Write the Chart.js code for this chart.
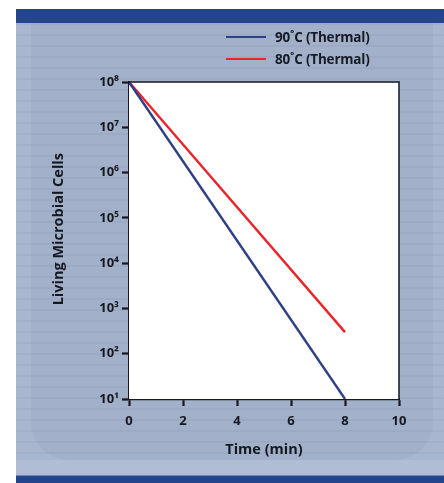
<!DOCTYPE html>
<html>
<head>
<meta charset="utf-8">
<script src="https://cdn.jsdelivr.net/npm/chart.js@4.4.1/dist/chart.umd.min.js"></script>
<style>
  html, body { margin: 0; padding: 0; background: #fff; }
  body { width: 444px; height: 483px; position: relative; overflow: hidden; font-family: "Open Sans", sans-serif; }
  .frame { position: absolute; left: 16px; top: 9px; width: 428px; height: 474px; background: #a9b6cf; }
  .header { position: absolute; left: 0; top: 0; width: 428px; height: 14px; background: #24448b; }
  .panel { position: absolute; left: 15px; top: 14px; width: 402px; height: 437px; background: #a2b0c9;
           border-radius: 0 0 38px 38px;
           background-image: repeating-linear-gradient(to bottom, rgba(60,75,110,0.06) 0px, rgba(60,75,110,0.06) 2px, transparent 2px, transparent 11px); }
  .band { position: absolute; left: 0; top: 451px; width: 428px; height: 15px; background: #b1bdd5; }
  .footer { position: absolute; left: 0; top: 466px; width: 428px; height: 8px; background: #24448b; border-top: 1px solid #6f84b3; }
  .stripes { position: absolute; left: 0; top: 14px; width: 428px; height: 437px;
             background-image: repeating-linear-gradient(to bottom, rgba(60,75,110,0.05) 0px, rgba(60,75,110,0.05) 2px, transparent 2px, transparent 11px); }
  .wrap { position: absolute; left: 0; top: 0; width: 444px; height: 483px; }
  .legend { position: absolute; left: 226px; top: 26px; }
  .legend .row { height: 22px; display: flex; align-items: center; }
  .legend .swatch { width: 40px; height: 2px; margin-right: 9px; }
  .legend .label { font: bold 13.5px "Open Sans", sans-serif; color: #161a26; letter-spacing: -0.2px; }
</style>
</head>
<body>
<div class="frame">
  <div class="header"></div>
  <div class="stripes"></div>
  <div class="panel"></div>
  <div class="band"></div>
  <div class="footer"></div>
</div>
<div class="wrap"><canvas id="chart"></canvas></div>
<div class="legend" id="legend"></div>
<script>
// data
const seriesNames = ["90˚C (Thermal)", "80˚C (Thermal)"];
const seriesColors = ["#2f3f86", "#e8252a"];
const timeMin = [0, 8];
const cells90 = [1e8, 1e1];
const cells80 = [1e8, 3e2];
const xTicks = [0, 2, 4, 6, 8, 10];
const yTicks = [1e1, 1e2, 1e3, 1e4, 1e5, 1e6, 1e7, 1e8];

const sup = {"0":"⁰","1":"¹","2":"²","3":"³","4":"⁴","5":"⁵","6":"⁶","7":"⁷","8":"⁸","9":"⁹"};
const ink = "#161820";

function toPoints(xs, ys) {
    return xs.map((x, i) => ({ x: x, y: ys[i] }));
}

const plotFrame = {
    id: "plotFrame",
    beforeDatasetsDraw(chart) {
        const a = chart.chartArea, ctx = chart.ctx;
        ctx.save();
        ctx.fillStyle = "#ffffff";
        ctx.fillRect(a.left, a.top, a.right - a.left, a.bottom - a.top);
        ctx.restore();
    },
    afterDatasetsDraw(chart) {
        const a = chart.chartArea, ctx = chart.ctx;
        ctx.save();
        ctx.strokeStyle = ink;
        ctx.lineWidth = 1.5;
        ctx.beginPath();
        ctx.moveTo(a.left, a.top);
        ctx.lineTo(a.right, a.top);
        ctx.lineTo(a.right, a.bottom);
        ctx.stroke();
        ctx.restore();
    }
};

const ctx = document.getElementById("chart").getContext("2d");
const chart = new Chart(ctx, {
    type: "line",
    data: {
        datasets: [
            { label: seriesNames[0], data: toPoints(timeMin, cells90), borderColor: seriesColors[0], borderWidth: 2.4, pointRadius: 0, tension: 0 },
            { label: seriesNames[1], data: toPoints(timeMin, cells80), borderColor: seriesColors[1], borderWidth: 2.4, pointRadius: 0, tension: 0 }
        ]
    },
    options: {
        responsive: true,
        maintainAspectRatio: false,
        animation: false,
        layout: { padding: { left: 50, top: 82, right: 45, bottom: 24 } },
        plugins: { legend: { display: false }, tooltip: { enabled: false } },
        scales: {
            x: {
                type: "linear",
                min: 0, max: 10,
                afterBuildTicks: s => { s.ticks = xTicks.map(v => ({ value: v })); },
                afterFit: s => { s.height = 60; },
                grid: { drawOnChartArea: false, drawTicks: true, tickLength: 7, tickWidth: 2.2, tickColor: ink },
                border: { display: true, color: ink, width: 2.2 },
                ticks: { color: ink, padding: 7, font: { family: "Open Sans", size: 13, weight: "bold" } },
                title: { display: true, text: "Time (min)", color: ink, padding: 0, font: { family: "Open Sans", size: 14.5, weight: "bold" } }
            },
            y: {
                type: "logarithmic",
                min: 10, max: 1e8,
                afterBuildTicks: s => { s.ticks = yTicks.map(v => ({ value: v })); },
                afterFit: s => { s.width = 79; },
                grid: { drawOnChartArea: false, drawTicks: true, tickLength: 7, tickWidth: 2.2, tickColor: ink },
                border: { display: true, color: ink, width: 2.2 },
                ticks: {
                    color: ink, padding: 3, font: { family: "Open Sans", size: 13, weight: "bold" },
                    callback: v => "10" + String(Math.round(Math.log10(v))).split("").map(c => sup[c]).join("")
                },
                title: { display: true, text: "      Living Microbial Cells", color: ink, padding: 0, font: { family: "Open Sans", size: 14.5, weight: "bold" } }
            }
        }
    },
    plugins: [plotFrame]
});

// legend built from the datasets
const legend = document.getElementById("legend");
chart.data.datasets.forEach(ds => {
    const row = document.createElement("div");
    row.className = "row";
    const sw = document.createElement("span");
    sw.className = "swatch";
    sw.style.background = ds.borderColor;
    const lb = document.createElement("span");
    lb.className = "label";
    lb.textContent = ds.label;
    row.appendChild(sw);
    row.appendChild(lb);
    legend.appendChild(row);
});
</script>
</body>
</html>
